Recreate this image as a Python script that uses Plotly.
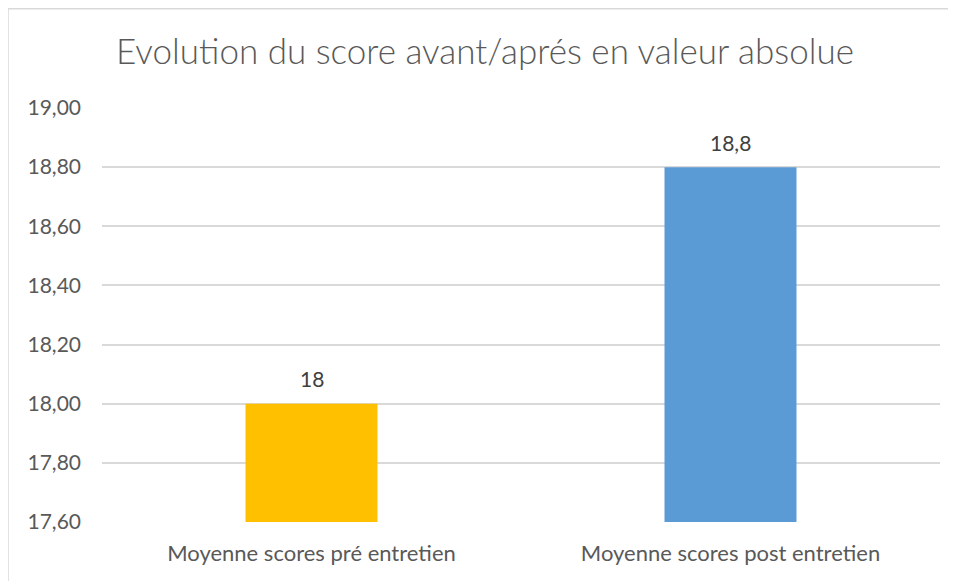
import plotly.graph_objects as go

categories = ["Moyenne scores pré entretien", "Moyenne scores post entretien"]
values = [18.0, 18.8]
value_labels = ["18", "18,8"]
colors = ["#FFC000", "#5B9BD5"]
tick_vals = [17.6, 17.8, 18.0, 18.2, 18.4, 18.6, 18.8, 19.0]
tick_text = ["17,60", "17,80", "18,00", "18,20", "18,40", "18,60", "18,80", "19,00"]

font_family = "Lato, 'Open Sans', sans-serif"

# page body has an 8px margin; compensate so the figure fills the 956x581 window
OFF = 8
W, H = 956 - OFF, 581 - OFF
L, R, T, B = 102 - OFF, 16, 108 - OFF, 59
pw = W - L - R
ph = H - T - B

fig = go.Figure(go.Bar(
    x=categories,
    y=values,
    marker=dict(color=colors, line=dict(width=0)),
    width=0.315,
    hoverinfo="x+y",
))

annotations = [
    dict(x=c, y=v, xref="x", yref="y", text=t, showarrow=False,
         yanchor="middle", yshift=25,
         font=dict(size=21, color="#404040", family=font_family))
    for c, v, t in zip(categories, values, value_labels)
]

fig.update_layout(
    width=W, height=H,
    margin=dict(l=L, r=R, t=T, b=B),
    paper_bgcolor="white",
    plot_bgcolor="white",
    showlegend=False,
    annotations=annotations,
    title=dict(
        text="Evolution du score avant/aprés en valeur absolue",
        x=(485 - OFF) / W, xanchor="center",
        y=1 - (52 - OFF) / H, yanchor="middle",
        font=dict(size=35, color="#595959", family=font_family, weight=300),
    ),
    xaxis=dict(
        showgrid=False, showline=False, zeroline=False,
        tickfont=dict(size=22, color="#595959", family=font_family),
        ticks="", ticklabelstandoff=16,
    ),
    yaxis=dict(
        range=[17.6, 19.0],
        tickvals=tick_vals, ticktext=tick_text,
        showgrid=True, gridcolor="#D9D9D9", gridwidth=1.5,
        zeroline=False, showline=False, ticks="",
        tickfont=dict(size=21, color="#595959", family=font_family),
        ticklabelstandoff=20,
    ),
    shapes=[dict(
        type="rect", xref="paper", yref="paper",
        x0=(7.5 - OFF + 0.5 - L) / pw, x1=(W + 5 - L) / pw,
        y0=(-(H + 5 - (H - B))) / ph, y1=((H - B) - 0.75) / ph,
        line=dict(color="#D9D9D9", width=1.5),
        fillcolor="rgba(0,0,0,0)", layer="below",
    )],
)

fig.write_html("out.html")
